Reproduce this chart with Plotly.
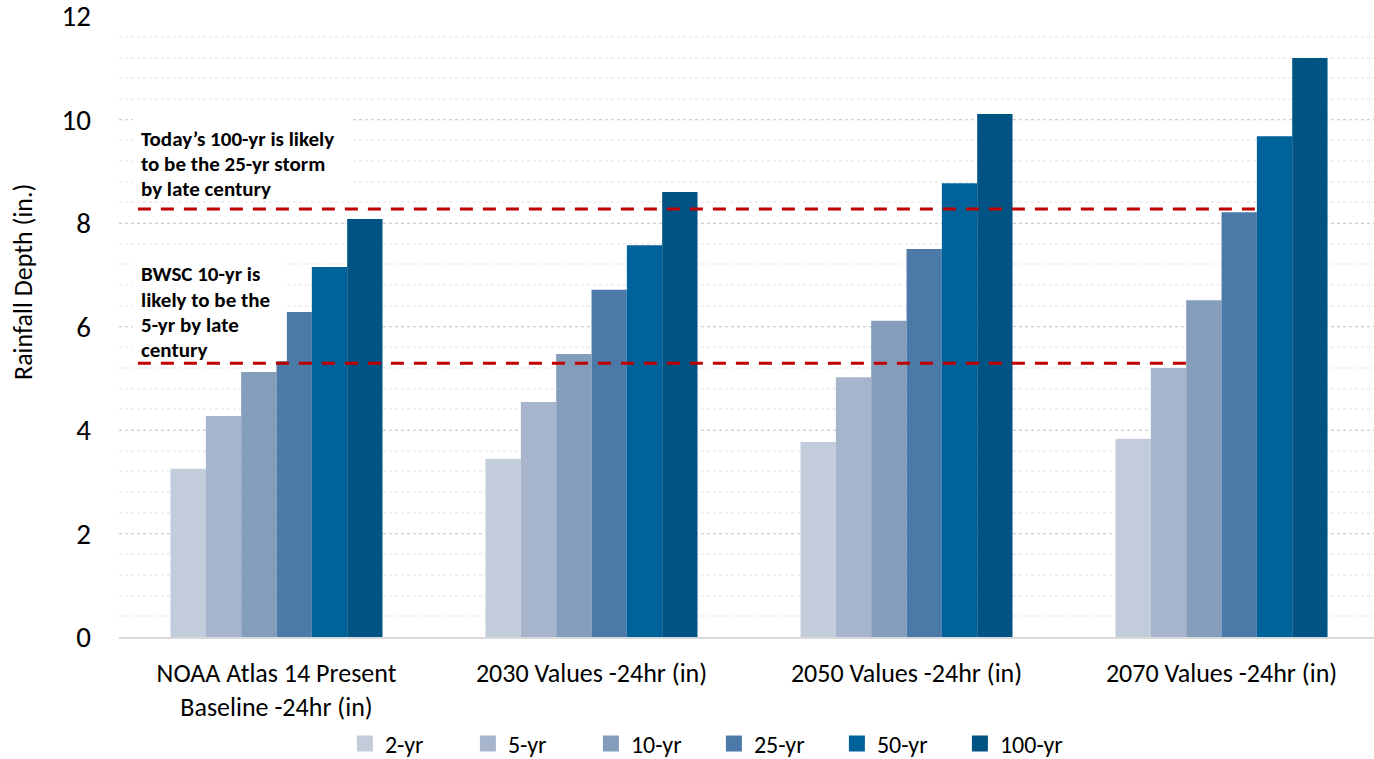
import plotly.graph_objects as go

# Design storm rainfall depths (inches), 24-hour duration
categories = [
    "NOAA Atlas 14 Present<br>Baseline -24hr (in)",
    "2030 Values -24hr (in)",
    "2050 Values -24hr (in)",
    "2070 Values -24hr (in)",
]
storms = ["2-yr", "5-yr", "10-yr", "25-yr", "50-yr", "100-yr"]
depth_2yr = [3.25, 3.44, 3.77, 3.83]
depth_5yr = [4.27, 4.54, 5.02, 5.20]
depth_10yr = [5.12, 5.47, 6.11, 6.51]
depth_25yr = [6.28, 6.71, 7.50, 8.21]
depth_50yr = [7.15, 7.57, 8.77, 9.68]
depth_100yr = [8.08, 8.60, 10.11, 11.19]
series = [depth_2yr, depth_5yr, depth_10yr, depth_25yr, depth_50yr, depth_100yr]
colors = ["#C3CCDB", "#A7B5CC", "#849DBB", "#4C7AA8", "#00629B", "#005382"]
y_ticks = [0, 2, 4, 6, 8, 10, 12]

# Reference thresholds (inches)
threshold_100yr_today = 8.27
threshold_bwsc_10yr = 5.29

note_upper = ["Today’s 100-yr is likely", "to be the 25-yr storm", "by late century"]
note_lower = ["BWSC 10-yr is", "likely to be the", "5-yr by late", "century"]

FONT = "Carlito, Calibri, Lato, sans-serif"
RED = "#C00000"

fig = go.Figure()
for name, vals, col in zip(storms, series, colors):
    fig.add_trace(go.Bar(x=categories, y=vals, name=name, marker_color=col,
                         marker_line_width=0, showlegend=False, legendgroup=name))
# Legend entries with larger square swatches
for name, col in zip(storms, colors):
    fig.add_trace(go.Scatter(x=[None], y=[None], mode="markers", name=name,
                             legendgroup=name,
                             marker=dict(symbol="square", size=18, color=col,
                                         line_width=0)))

# White label boxes sit over the gridlines and bars
fig.add_shape(type="rect", xref="x", yref="y", x0=-0.456, x1=0.236, y0=8.44, y1=10.14,
              fillcolor="white", line_width=0, layer="above")
fig.add_shape(type="rect", xref="x", yref="y", x0=-0.456, x1=0.033, y0=5.33, y1=7.40,
              fillcolor="white", line_width=0, layer="above")

# Dashed threshold lines
fig.add_shape(type="line", xref="x", yref="y", x0=-0.440, x1=3.122,
              y0=threshold_100yr_today, y1=threshold_100yr_today,
              line=dict(color=RED, width=3, dash="13px,10px"), layer="above")
fig.add_shape(type="line", xref="x", yref="y", x0=-0.440, x1=2.902,
              y0=threshold_bwsc_10yr, y1=threshold_bwsc_10yr,
              line=dict(color=RED, width=3, dash="13px,10px"), layer="above")

note_font = dict(family=FONT, size=21, color="#000000", weight="bold")
for i, line in enumerate(note_upper):
    fig.add_annotation(xref="x", yref="y", x=-0.436, y=9.62 - 0.485 * i,
                       xanchor="left", yanchor="middle", text=line,
                       showarrow=False, font=note_font)
for i, line in enumerate(note_lower):
    fig.add_annotation(xref="x", yref="y", x=-0.436, y=7.01 - 0.488 * i,
                       xanchor="left", yanchor="middle", text=line,
                       showarrow=False, font=note_font)

# Vertical axis title
fig.add_annotation(xref="paper", yref="paper", x=-0.0765, y=0.5717,
                   xanchor="center", yanchor="middle", textangle=-90,
                   text="Rainfall Depth (in.)", showarrow=False,
                   font=dict(family=FONT, size=26, color="#000000"))

fig.update_layout(
    width=1374, height=759,
    margin=dict(l=119, r=0, t=16, b=122, autoexpand=False),
    paper_bgcolor="white", plot_bgcolor="white",
    barmode="group", bargap=0.327, bargroupgap=0,
    font=dict(family=FONT, color="#000000"),
    showlegend=True,
    legend=dict(orientation="h", x=0.18, xanchor="left", y=-0.172, yanchor="middle",
                font=dict(family=FONT, size=24, color="#000000"),
                entrywidth=78, entrywidthmode="pixels", traceorder="normal"),
)
fig.update_xaxes(range=[-0.5, 3.484], showgrid=False, showline=True,
                 linecolor="#D9D9D9", linewidth=2, ticks="",
                 tickfont=dict(family=FONT, size=26, color="#000000"),
                 ticklabelstandoff=12)
fig.update_yaxes(range=[0, 12.002], tickmode="array", tickvals=y_ticks,
                 showgrid=True, gridcolor="#CFCFCF",
                 griddash="dot", gridwidth=1, zeroline=False,
                 ticklabeloverflow="allow",
                 tickfont=dict(family=FONT, size=29, color="#000000"),
                 ticklabelstandoff=27,
                 minor=dict(dtick=0.4, showgrid=True, gridcolor="#F0F0F0", gridwidth=2))

fig.write_html("out.html")
